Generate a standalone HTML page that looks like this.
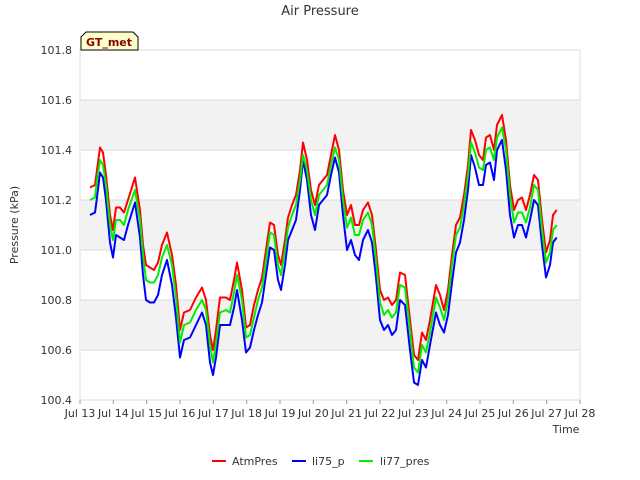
<!DOCTYPE html>
<html><head><meta charset="utf-8"><style>
body{margin:0;background:#fff;}
svg{display:block;font-family:"DejaVu Sans","Liberation Sans",sans-serif;}
</style></head><body>
<svg id="chart" width="640" height="480" xmlns="http://www.w3.org/2000/svg">
<text x="320" y="15" text-anchor="middle" font-size="13" fill="#333">Air Pressure</text>
<g id="bands"></g>
<g id="grid"></g>
<g id="yticks"></g>
<g id="xticks"></g>
<g id="series"></g>
<text transform="translate(18,225) rotate(-90)" text-anchor="middle" font-size="11" fill="#333">Pressure (kPa)</text>
<text x="566" y="433" text-anchor="middle" font-size="11" fill="#333">Time</text>
<g>
<path d="M81,50 L81,37 L86,32 L133,32 L138,37 L138,50 Z" fill="#ffffcc" stroke="#000" stroke-width="1"/>
<text x="109" y="46" text-anchor="middle" font-size="11" font-weight="bold" fill="#8b0000">GT_met</text>
</g>
<g>
<g><line x1="212" y1="461" x2="226" y2="461" stroke="#ff0000" stroke-width="2"/><text x="232" y="465" font-size="11" fill="#333">AtmPres</text></g>
<g><line x1="292" y1="461" x2="306" y2="461" stroke="#0000ff" stroke-width="2"/><text x="312" y="465" font-size="11" fill="#333">li75_p</text></g>
<g><line x1="359" y1="461" x2="373" y2="461" stroke="#00ee00" stroke-width="2"/><text x="380" y="465" font-size="11" fill="#333">li77_pres</text></g>
</g>
</svg>
<script>
const times=[13.30,13.45,13.51,13.60,13.69,13.78,13.90,13.99,14.08,14.20,
14.32,14.44,14.65,14.80,14.89,14.98,15.10,15.22,15.34,15.46,
15.61,15.76,15.88,16.00,16.12,16.30,16.48,16.66,16.78,16.90,
16.99,17.08,17.20,17.38,17.50,17.62,17.71,17.86,17.98,18.10,
18.22,18.34,18.46,18.58,18.70,18.82,18.94,19.03,19.15,19.24,
19.36,19.48,19.60,19.69,19.81,19.93,20.05,20.17,20.29,20.41,
20.53,20.65,20.77,20.89,21.01,21.13,21.25,21.37,21.49,21.64,
21.76,21.88,22.00,22.12,22.24,22.36,22.48,22.60,22.75,22.90,
23.02,23.14,23.26,23.38,23.50,23.68,23.80,23.92,24.04,24.16,
24.28,24.40,24.52,24.64,24.73,24.85,24.97,25.09,25.18,25.30,
25.42,25.51,25.66,25.78,25.90,26.02,26.14,26.26,26.38,26.50,
26.62,26.74,26.86,26.98,27.10,27.19,27.30];
const atmPres=[101.25,101.26,101.32,101.41,101.39,101.30,101.14,101.08,101.17,101.17,
101.15,101.20,101.29,101.16,101.02,100.94,100.93,100.92,100.95,101.02,
101.07,100.98,100.86,100.68,100.75,100.76,100.81,100.85,100.80,100.66,
100.60,100.68,100.81,100.81,100.80,100.88,100.95,100.84,100.69,100.70,
100.78,100.84,100.89,101.00,101.11,101.10,100.98,100.94,101.04,101.13,
101.18,101.22,101.32,101.43,101.36,101.24,101.18,101.26,101.28,101.30,
101.38,101.46,101.40,101.24,101.14,101.18,101.10,101.10,101.16,101.19,
101.14,101.00,100.84,100.80,100.81,100.78,100.80,100.91,100.90,100.72,
100.58,100.56,100.67,100.64,100.72,100.86,100.82,100.76,100.84,100.98,
101.10,101.13,101.22,101.34,101.48,101.44,101.38,101.36,101.45,101.46,
101.40,101.50,101.54,101.44,101.26,101.16,101.20,101.21,101.16,101.22,
101.30,101.28,101.12,100.99,101.04,101.14,101.16];
const li77Pres=[101.20,101.21,101.28,101.36,101.34,101.26,101.10,101.04,101.12,101.12,
101.10,101.16,101.24,101.12,100.98,100.88,100.87,100.87,100.90,100.97,
101.02,100.94,100.81,100.63,100.70,100.71,100.76,100.80,100.76,100.62,
100.55,100.63,100.75,100.76,100.75,100.83,100.90,100.80,100.65,100.66,
100.73,100.80,100.85,100.96,101.07,101.06,100.94,100.90,101.00,101.09,
101.14,101.18,101.28,101.38,101.32,101.20,101.14,101.22,101.24,101.26,
101.34,101.41,101.36,101.20,101.09,101.13,101.06,101.06,101.12,101.15,
101.10,100.96,100.79,100.74,100.76,100.73,100.75,100.86,100.85,100.68,
100.53,100.51,100.62,100.59,100.67,100.81,100.77,100.72,100.80,100.94,
101.06,101.09,101.18,101.30,101.43,101.39,101.33,101.32,101.40,101.41,
101.36,101.45,101.49,101.40,101.22,101.11,101.15,101.15,101.11,101.17,
101.26,101.24,101.08,100.95,100.99,101.08,101.10];
const li75P=[101.14,101.15,101.21,101.31,101.29,101.20,101.03,100.97,101.06,101.05,
101.04,101.10,101.19,101.05,100.90,100.80,100.79,100.79,100.82,100.90,
100.96,100.86,100.73,100.57,100.64,100.65,100.70,100.75,100.70,100.55,
100.50,100.57,100.70,100.70,100.70,100.77,100.84,100.72,100.59,100.61,
100.68,100.74,100.79,100.90,101.01,101.00,100.88,100.84,100.94,101.04,
101.08,101.12,101.24,101.36,101.28,101.14,101.08,101.18,101.20,101.22,
101.30,101.37,101.31,101.14,101.00,101.04,100.98,100.96,101.04,101.08,
101.03,100.89,100.72,100.68,100.70,100.66,100.68,100.80,100.78,100.60,
100.47,100.46,100.56,100.53,100.62,100.75,100.70,100.67,100.74,100.87,
100.99,101.03,101.12,101.24,101.38,101.33,101.26,101.26,101.34,101.35,
101.28,101.40,101.44,101.32,101.14,101.05,101.10,101.10,101.05,101.12,
101.20,101.18,101.02,100.89,100.94,101.03,101.05];
const yTickLabels=["100.4","100.6","100.8","101.0","101.2","101.4","101.6","101.8"];
const xTickLabels=["Jul 13","Jul 14","Jul 15","Jul 16","Jul 17","Jul 18","Jul 19","Jul 20","Jul 21","Jul 22","Jul 23","Jul 24","Jul 25","Jul 26","Jul 27","Jul 28"];

const X0=80,X1=580,Y0=400,Y1=50,XMIN=13,XMAX=28,YMIN=100.4,YMAX=101.8;
const sx=d=>X0+(d-XMIN)/(XMAX-XMIN)*(X1-X0);
const sy=v=>Y0-(v-YMIN)/(YMAX-YMIN)*(Y0-Y1);
const NS="http://www.w3.org/2000/svg";
function mk(tag,parent){const e=document.createElementNS(NS,tag);parent.appendChild(e);return e;}
const bands=document.getElementById('bands'),grid=document.getElementById('grid'),yt=document.getElementById('yticks'),xt=document.getElementById('xticks'),ser=document.getElementById('series');
const bg=mk('rect',bands);bg.setAttribute('x',X0);bg.setAttribute('y',Y1);bg.setAttribute('width',X1-X0);bg.setAttribute('height',Y0-Y1);bg.setAttribute('fill','#fff');bg.setAttribute('stroke','#ddd');


for(let i=0;i<yTickLabels.length-1;i++){
  if(i%2===1){const v=parseFloat(yTickLabels[i]),v2=parseFloat(yTickLabels[i+1]);
    const r=mk('rect',bands);r.setAttribute('x',X0);r.setAttribute('y',sy(v2));r.setAttribute('width',X1-X0);r.setAttribute('height',sy(v)-sy(v2));r.setAttribute('fill','#f2f2f2');
    
    }
}
yTickLabels.forEach(l=>{const v=parseFloat(l),y=sy(v);
  const g=mk('line',grid);g.setAttribute('x1',X0);g.setAttribute('x2',X1);g.setAttribute('y1',y);g.setAttribute('y2',y);g.setAttribute('stroke','#dcdcdc');
  
  
  const t=mk('text',yt);t.setAttribute('x',X0-8);t.setAttribute('y',y+4);t.setAttribute('text-anchor','end');t.setAttribute('font-size','11');t.setAttribute('fill','#333');t.textContent=l;
  
  
});
xTickLabels.forEach((l,i)=>{const x=sx(XMIN+i);
  const k=mk('line',xt);k.setAttribute('x1',x);k.setAttribute('x2',x);k.setAttribute('y1',Y0);k.setAttribute('y2',Y0+4);k.setAttribute('stroke','#999');
  
  
  const t=mk('text',xt);t.setAttribute('x',x);t.setAttribute('y',Y0+17);t.setAttribute('text-anchor','middle');t.setAttribute('font-size','11');t.setAttribute('fill','#333');t.textContent=l;
  
  
});
function line(vals,color,name){
  const p=mk('polyline',ser);
  p.setAttribute('points',vals.map((v,i)=>sx(times[i]).toFixed(1)+','+sy(v).toFixed(1)).join(' '));
  p.setAttribute('fill','none');p.setAttribute('stroke',color);p.setAttribute('stroke-width','2');p.setAttribute('stroke-linejoin','round');
  
  
}
line(atmPres,'#ff0000','atmpres-line');
line(li75P,'#0000ff','li75-p-line');
line(li77Pres,'#00ee00','li77-pres-line');
</script>
</body></html>
